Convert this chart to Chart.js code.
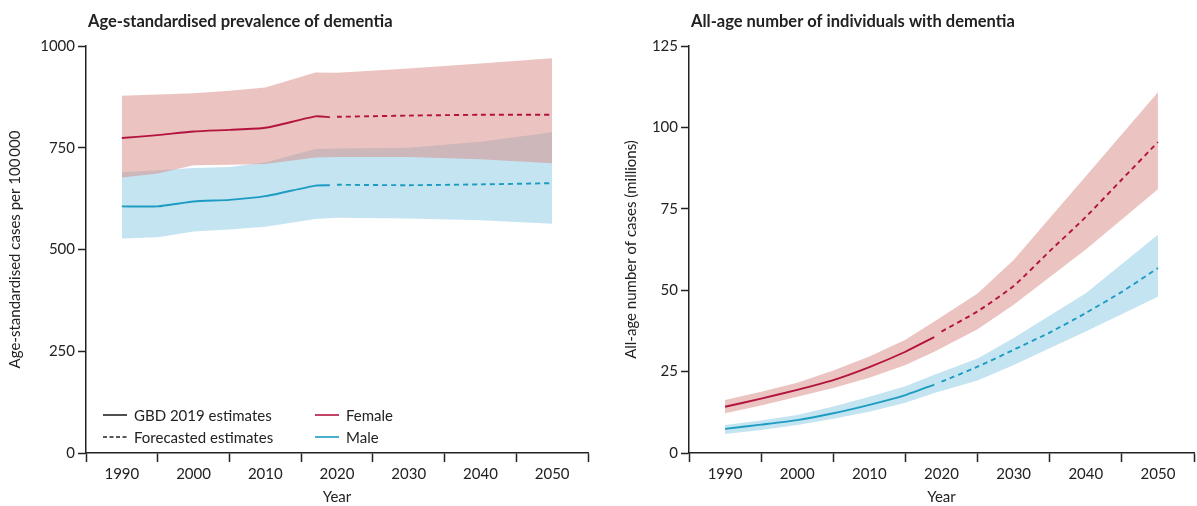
<!DOCTYPE html>
<html>
<head>
<meta charset="utf-8">
<script src="https://cdn.jsdelivr.net/npm/chart.js@4.4.1/dist/chart.umd.min.js"></script>
<style>
html, body { margin: 0; padding: 0; background: #fff; }
#wrap { position: relative; width: 1197px; height: 506px; }
.box { position: absolute; top: 0; height: 506px; }
#leftBox { left: 0; width: 600px; }
#rightBox { left: 600px; width: 597px; }
</style>
</head>
<body>
<div id="wrap">
  <div class="box" id="leftBox"><canvas id="leftChart"></canvas></div>
  <div class="box" id="rightBox"><canvas id="rightChart"></canvas></div>
</div>
<script>
// left panel: age-standardised prevalence per 100 000
const leftBandYears = [1990, 1995, 2000, 2005, 2010, 2017, 2020, 2030, 2040, 2050];
const leftFemaleUpper = [878, 881, 884, 890, 898, 935, 934, 945, 957, 970];
const leftFemaleLower = [677, 687, 707, 708, 710, 726, 727, 727, 722, 712];
const leftMaleUpper = [690, 695, 700, 703, 714, 747, 748, 750, 765, 788];
const leftMaleLower = [527, 530, 544, 549, 556, 575, 578, 576, 572, 563];
const leftHistYears = [1990, 1995, 2000, 2005, 2010, 2017, 2019];
const leftFemaleHist = [774, 781, 790, 794, 799, 827, 825];
const leftMaleHist = [606, 606, 618, 622, 631, 657, 658];
const leftFcstYears = [2020, 2030, 2040, 2050];
const leftFemaleFcst = [826, 829, 831, 831];
const leftMaleFcst = [659, 658, 660, 663];
const leftYTicks = [0, 250, 500, 750, 1000];

// right panel: all-age number of cases (millions)
const rightBandYears = [1990, 1995, 2000, 2005, 2010, 2015, 2019, 2025, 2030, 2040, 2050];
const rightFemaleUpper = [16.3, 18.8, 21.6, 25.3, 29.6, 34.8, 40.4, 49, 59.3, 85, 110.8];
const rightFemaleLower = [12.2, 14.6, 17.3, 20, 23.1, 27, 31.1, 38, 45.5, 62.5, 81];
const rightMaleUpper = [8.6, 10, 11.7, 14.3, 17.3, 20.5, 24, 29, 35.3, 49.1, 67];
const rightMaleLower = [5.8, 7.1, 8.6, 10.5, 12.7, 15.4, 18.4, 22.3, 27, 37.3, 48];
const rightHistYears = [1990, 1995, 2000, 2005, 2010, 2015, 2019];
const rightFemaleHist = [14.2, 16.7, 19.4, 22.4, 26.4, 31.1, 35.6];
const rightMaleHist = [7.4, 8.7, 10.1, 12.2, 14.8, 17.8, 21];
const rightFcstYears = [2020, 2025, 2030, 2035, 2040, 2045, 2050];
const rightFemaleFcst = [37.3, 43.5, 51.3, 62, 72.5, 84, 95.5];
const rightMaleFcst = [21.9, 26.5, 31.7, 37, 43, 49.5, 56.8];
const rightYTicks = [0, 25, 50, 75, 100, 125];

const xTickYears = [1985, 1990, 1995, 2000, 2005, 2010, 2015, 2020, 2025, 2030, 2035, 2040, 2045, 2050, 2055];

const FONT = 'Lato, "Noto Sans", sans-serif';
const INK = '#222';
const femaleLine = '#b3143f';
const maleLine = '#1d9cc2';
const femaleBand = 'rgba(215, 137, 131, 0.5)';
const maleBand = '#c4e4f1';

const pts = (xs, ys) => xs.map((x, i) => ({ x: x, y: ys[i] }));

const panelTitle = {
    id: 'panelTitle',
    afterDraw(chart, args, opts) {
        const ctx = chart.ctx;
        ctx.save();
        ctx.font = 'bold 16.5px ' + FONT;
        ctx.fillStyle = INK;
        ctx.textBaseline = 'middle';
        ctx.fillText(opts.text, chart.chartArea.left + opts.dx, opts.y);
        ctx.restore();
    }
};

const panelLegend = {
    id: 'panelLegend',
    afterDraw(chart, args, opts) {
        if (!opts.show) return;
        const ctx = chart.ctx;
        const a = chart.chartArea;
        const rows = [a.bottom - 38, a.bottom - 16];
        const items = [
            { col: 0, row: 0, color: INK, dash: [], text: 'GBD 2019 estimates' },
            { col: 0, row: 1, color: INK, dash: [4, 2.5], text: 'Forecasted estimates' },
            { col: 1, row: 0, color: femaleLine, dash: [], text: 'Female' },
            { col: 1, row: 1, color: maleLine, dash: [], text: 'Male' }
        ];
        ctx.save();
        ctx.font = '15px ' + FONT;
        ctx.textBaseline = 'middle';
        items.forEach(it => {
            const x0 = a.left + (it.col === 0 ? 17 : 229);
            const y = rows[it.row];
            ctx.beginPath();
            ctx.setLineDash(it.dash);
            ctx.strokeStyle = it.color;
            ctx.lineWidth = 1.6;
            ctx.moveTo(x0, y);
            ctx.lineTo(x0 + 24, y);
            ctx.stroke();
            ctx.setLineDash([]);
            ctx.fillStyle = INK;
            ctx.fillText(it.text, x0 + 31, y + 1);
        });
        ctx.restore();
    }
};

function buildChart(id, d) {
    const ctx = document.getElementById(id).getContext('2d');
    const band = (data, color, fillTo, order) => ({
        data: data, borderWidth: 0, pointRadius: 0, backgroundColor: color,
        fill: fillTo === null ? false : { target: fillTo }, order: order, tension: 0
    });
    const line = (data, color, dash) => ({
        data: data, borderColor: color, borderWidth: 1.9, borderDash: dash,
        pointRadius: 0, fill: false, order: 0, tension: 0.2
    });
    return new Chart(ctx, {
        type: 'line',
        data: {
            datasets: [
                band(pts(d.bandYears, d.femaleUpper), femaleBand, 1, 1),
                band(pts(d.bandYears, d.femaleLower), femaleBand, null, 1),
                band(pts(d.bandYears, d.maleUpper), maleBand, 3, 2),
                band(pts(d.bandYears, d.maleLower), maleBand, null, 2),
                line(pts(d.histYears, d.femaleHist), femaleLine, []),
                line(pts(d.fcstYears, d.femaleFcst), femaleLine, [5, 4]),
                line(pts(d.histYears, d.maleHist), maleLine, []),
                line(pts(d.fcstYears, d.maleFcst), maleLine, [5, 4])
            ]
        },
        options: {
            responsive: true,
            maintainAspectRatio: false,
            animation: false,
            events: [],
            layout: { padding: d.padding },
            plugins: {
                legend: { display: false },
                tooltip: { enabled: false },
                panelTitle: { text: d.title, dx: 2, y: 22 },
                panelLegend: { show: d.legend }
            },
            scales: {
                x: {
                    type: 'linear', min: 1985, max: 2055,
                    afterBuildTicks: s => { s.ticks = xTickYears.map(v => ({ value: v })); },
                    afterFit: s => { s.height = d.xHeight; },
                    ticks: {
                        autoSkip: false, maxRotation: 0, padding: 3, color: INK,
                        font: { family: FONT, size: 15 },
                        callback: v => ((v - 1985) % 10 === 0 ? '' : String(v))
                    },
                    grid: {
                        drawOnChartArea: false, drawTicks: true, tickLength: 9, tickWidth: 1.5,
                        tickColor: c => ((c.tick.value - 1985) % 10 === 0 ? INK : 'rgba(0,0,0,0)')
                    },
                    border: { color: INK, width: 1.5 },
                    title: { display: true, text: 'Year', color: INK, font: { family: FONT, size: 15 }, padding: { top: 1, bottom: 0 } }
                },
                y: {
                    min: 0, max: d.yMax,
                    afterBuildTicks: s => { s.ticks = d.yTicks.map(v => ({ value: v })); },
                    afterFit: s => { s.width = d.yWidth; },
                    ticks: { padding: 3, color: INK, font: { family: FONT, size: 15 }, callback: v => String(v) },
                    grid: { drawOnChartArea: false, drawTicks: true, tickLength: 8, tickWidth: 1.5, tickColor: INK },
                    border: { color: INK, width: 1.5 },
                    title: { display: true, text: d.yTitle, color: INK, font: { family: FONT, size: 15 }, padding: { top: 0, bottom: 4 } }
                }
            }
        },
        plugins: [panelTitle, panelLegend]
    });
}

buildChart('leftChart', {
    title: 'Age-standardised prevalence of dementia',
    yTitle: 'Age-standardised cases per 100\u2009000',
    yMax: 1000, yTicks: leftYTicks, legend: true,
    padding: { top: 46, right: 12, left: 6, bottom: 0 },
    yWidth: 80, xHeight: 53,
    bandYears: leftBandYears, femaleUpper: leftFemaleUpper, femaleLower: leftFemaleLower,
    maleUpper: leftMaleUpper, maleLower: leftMaleLower,
    histYears: leftHistYears, femaleHist: leftFemaleHist, maleHist: leftMaleHist,
    fcstYears: leftFcstYears, femaleFcst: leftFemaleFcst, maleFcst: leftMaleFcst
});

buildChart('rightChart', {
    title: 'All-age number of individuals with dementia',
    yTitle: 'All-age number of cases (millions)',
    yMax: 125, yTicks: rightYTicks, legend: false,
    padding: { top: 46, right: 0, left: 22, bottom: 0 },
    yWidth: 67, xHeight: 53,
    bandYears: rightBandYears, femaleUpper: rightFemaleUpper, femaleLower: rightFemaleLower,
    maleUpper: rightMaleUpper, maleLower: rightMaleLower,
    histYears: rightHistYears, femaleHist: rightFemaleHist, maleHist: rightMaleHist,
    fcstYears: rightFcstYears, femaleFcst: rightFemaleFcst, maleFcst: rightMaleFcst
});
</script>
</body>
</html>
